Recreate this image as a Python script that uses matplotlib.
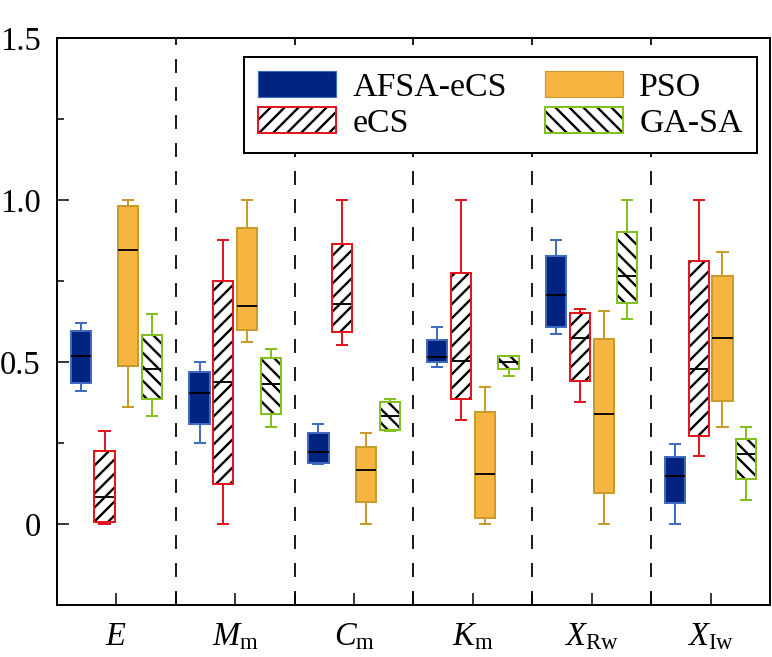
import numpy as np
import matplotlib.pyplot as plt
from matplotlib.patches import Patch, PathPatch
from matplotlib.legend_handler import HandlerTuple

plt.rcParams['font.family'] = ['Liberation Serif', 'DejaVu Serif']
plt.rcParams['mathtext.fontset'] = 'custom'
plt.rcParams['mathtext.rm'] = 'Liberation Serif'
plt.rcParams['mathtext.it'] = 'Liberation Serif:italic'
plt.rcParams['hatch.linewidth'] = 2.0

params = [r'$E$', r'$M_\mathrm{m}$', r'$C_\mathrm{m}$', r'$K_\mathrm{m}$',
          r'$X_\mathrm{Rw}$', r'$X_\mathrm{Iw}$']
methods = ['AFSA-eCS', 'eCS', 'PSO', 'GA-SA']

# each row: [min, q1, median, q3, max] per parameter
afsa_ecs = [[0.41, 0.435, 0.52, 0.595, 0.62],
            [0.25, 0.31, 0.405, 0.47, 0.50],
            [0.185, 0.188, 0.222, 0.281, 0.309],
            [0.485, 0.50, 0.515, 0.568, 0.608],
            [0.586, 0.608, 0.707, 0.827, 0.877],
            [0.0, 0.065, 0.148, 0.207, 0.247]]
ecs = [[0.0, 0.006, 0.083, 0.225, 0.287],
       [0.0, 0.123, 0.438, 0.75, 0.877],
       [0.552, 0.593, 0.679, 0.864, 1.0],
       [0.321, 0.386, 0.503, 0.775, 1.0],
       [0.377, 0.441, 0.574, 0.651, 0.663],
       [0.21, 0.272, 0.478, 0.812, 1.0]]
pso = [[0.36, 0.488, 0.846, 0.98, 1.0],
       [0.562, 0.60, 0.673, 0.913, 1.0],
       [0.0, 0.068, 0.167, 0.238, 0.281],
       [0.0, 0.019, 0.154, 0.345, 0.422],
       [0.0, 0.096, 0.34, 0.571, 0.657],
       [0.30, 0.38, 0.574, 0.765, 0.84]]
ga_sa = [[0.333, 0.386, 0.478, 0.583, 0.648],
         [0.30, 0.34, 0.432, 0.512, 0.54],
         [0.287, 0.29, 0.333, 0.377, 0.385],
         [0.457, 0.478, 0.50, 0.519, 0.519],
         [0.633, 0.682, 0.765, 0.901, 1.0],
         [0.074, 0.139, 0.216, 0.262, 0.30]]

data = [afsa_ecs, ecs, pso, ga_sa]
fills = ['#02237f', 'white', '#f6b541', 'white']
edges = ['#3f6cbf', '#e3141e', '#c99b2a', '#82c01e']
hatches = [None, '//', None, '\\\\']
offsets = [-0.3, -0.1, 0.1, 0.3]

dpi = 84
fig = plt.figure(figsize=(772 / dpi, 657 / dpi), dpi=dpi)
ax = fig.add_axes([0.0738, 0.0791, 0.9236, 0.8631])

x = np.arange(1, len(params) + 1)

# --------------------------------------------
# boxes

for k in range(len(methods)):
    stats = [dict(whislo=r[0], q1=r[1], med=r[2], q3=r[3], whishi=r[4], fliers=[])
             for r in data[k]]
    if hatches[k]:
        boxprops = dict(facecolor='white', edgecolor='black', linewidth=0, hatch=hatches[k])
    else:
        boxprops = dict(facecolor=fills[k], edgecolor=edges[k], linewidth=1.7)
    bp = ax.bxp(stats, positions=x + offsets[k], widths=0.17, patch_artist=True,
                showfliers=False, boxprops=boxprops,
                whiskerprops=dict(color=edges[k], linewidth=1.7),
                capprops=dict(color=edges[k], linewidth=1.7),
                medianprops=dict(color='black', linewidth=1.6))
    if hatches[k]:
        for box in bp['boxes']:
            ax.add_patch(PathPatch(box.get_path(), facecolor='none',
                                   edgecolor=edges[k], linewidth=1.7, zorder=2.1))

# separators between parameters
for s in np.arange(1.5, len(params)):
    ax.axvline(s, color='black', linewidth=1.5, dashes=(8, 8), zorder=1)

ax.set_xlim(0.5, len(params) + 0.5)
ax.set_ylim(-0.25, 1.5)
ax.set_xticks(x)
ax.set_xticklabels(params, fontsize=28)
ax.set_xticks(np.arange(1.5, len(params)), minor=True)
ax.set_yticks([0, 0.5, 1.0, 1.5])
ax.set_yticklabels(['0', '0.5', '1.0', '1.5'], fontsize=28)
ax.set_yticks([0.25, 0.75, 1.25], minor=True)
ax.tick_params(axis='x', which='both', direction='in', length=10, width=1.3, pad=14)
ax.tick_params(axis='y', which='major', direction='in', length=10, width=1.3, pad=14)
ax.tick_params(axis='y', which='minor', direction='in', length=6, width=1.3)
for sp in ax.spines.values():
    sp.set_linewidth(1.7)

# --------------------------------------------
# legend

handles = []
for k in range(len(methods)):
    if hatches[k]:
        handles.append((Patch(facecolor='white', edgecolor='black', linewidth=0, hatch=hatches[k]),
                        Patch(facecolor='none', edgecolor=edges[k], linewidth=1.7)))
    else:
        handles.append(Patch(facecolor=fills[k], edgecolor=edges[k], linewidth=1.0))

leg = ax.legend(handles, methods, ncol=2, loc='upper right', bbox_to_anchor=(0.982, 0.967),
                borderaxespad=0, fontsize=29, fancybox=False, edgecolor='black',
                framealpha=1, handlelength=2.3, handleheight=0.82, handletextpad=0.5,
                columnspacing=1.1, labelspacing=0.12, borderpad=0.42,
                handler_map={tuple: HandlerTuple(ndivide=1, pad=0)})
leg.get_frame().set_linewidth(1.7)
leg.set_zorder(5)

fig.savefig('out.png', dpi=dpi)
